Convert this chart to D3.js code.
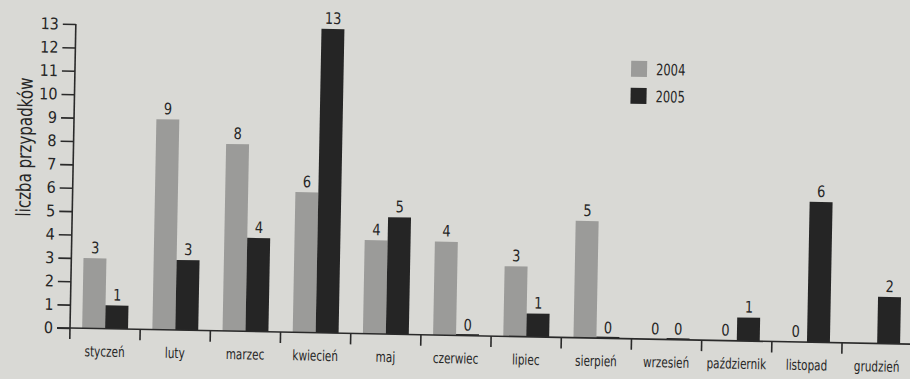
<!DOCTYPE html>
<html lang="pl">
<head>
<meta charset="utf-8">
<script src="https://cdn.jsdelivr.net/npm/d3@7"></script>
<style>
  html, body { margin: 0; padding: 0; background: #d9d9d5; }
  svg { display: block; }
  text { font-family: "Liberation Sans Narrow", "DejaVu Sans Condensed", "Open Sans", sans-serif; font-stretch: condensed; fill: #262626; }
</style>
</head>
<body>
<svg id="chart" width="910" height="379"></svg>
<script>
// Liczba przypadków w poszczególnych miesiącach
const months = ["styczeń", "luty", "marzec", "kwiecień", "maj", "czerwiec",
                "lipiec", "sierpień", "wrzesień", "październik", "listopad", "grudzień"];
const series = ["2004", "2005"];
const values2004 = [3, 9, 8, 6, 4, 4, 3, 5, 0, 0, 0, null];
const values2005 = [1, 3, 4, 13, 5, 0, 1, 0, 0, 1, 6, 2];
const yTicks = [0, 1, 2, 3, 4, 5, 6, 7, 8, 9, 10, 11, 12, 13];
const yTitle = "liczba przypadków";

const colors = { "2004": "#9b9b99", "2005": "#252525" };
const narrow = 0.8; // horizontal squeeze for the condensed label face

const svg = d3.select("#chart");
const plotLeft = 70, plotBottom = 328, plotTop = 24;
const step = 70.2;

const g = svg.append("g").attr("transform", `rotate(1.1, ${plotLeft}, ${plotBottom})`);

const x = d3.scaleBand().domain(months).range([plotLeft, plotLeft + step * months.length]).padding(0);
const x1 = d3.scaleBand().domain(series).range([0, x.bandwidth()]).paddingInner(0).paddingOuter(0.53);
const y = d3.scaleLinear().domain([0, 13]).range([plotBottom, plotTop]);

const rows = months.map((m, i) => ({ month: m, "2004": values2004[i], "2005": values2005[i] }));
const pairs = d => series.filter(s => d[s] !== null).map(s => ({ key: s, value: d[s] }));

// bars
const groups = g.append("g").selectAll("g").data(rows).join("g")
  .attr("transform", d => `translate(${x(d.month)},0)`);

groups.selectAll("rect")
  .data(pairs)
  .join("rect")
  .attr("x", d => x1(d.key))
  .attr("width", x1.bandwidth())
  .attr("y", d => y(d.value) - (d.value === 0 && d.key === "2005" ? 1.5 : 0))
  .attr("height", d => plotBottom - y(d.value) + (d.value === 0 && d.key === "2005" ? 1.5 : 0))
  .attr("fill", d => colors[d.key]);

// value labels
groups.selectAll("text.val")
  .data(pairs)
  .join("text")
  .attr("class", "val")
  .attr("transform", d => `translate(${x1(d.key) + x1.bandwidth() / 2},${y(d.value) - 5}) scale(0.9,1)`)
  .attr("text-anchor", "middle")
  .attr("font-size", 16)
  .text(d => d.value);

// y axis
const yAxis = g.append("g").attr("transform", `translate(${plotLeft},0)`)
  .call(d3.axisLeft(y).tickValues(yTicks).tickSize(13).tickSizeOuter(0).tickFormat(d3.format("d")));
yAxis.select(".domain").attr("stroke", "#2a2a2a").attr("stroke-width", 1.6)
  .attr("d", `M0,${plotTop}V${plotBottom + 11}`);
yAxis.selectAll(".tick line").attr("stroke", "#2a2a2a").attr("stroke-width", 1.6);
yAxis.selectAll(".tick text").attr("font-size", 16).attr("x", -17).attr("fill", "#262626");

// x axis baseline and separators
const xEnd = plotLeft + step * months.length;
g.append("line").attr("x1", plotLeft - 13).attr("x2", xEnd).attr("y1", plotBottom).attr("y2", plotBottom)
  .attr("stroke", "#2a2a2a").attr("stroke-width", 1.6);
g.append("g").selectAll("line").data(months.slice(1)).join("line")
  .attr("x1", d => x(d)).attr("x2", d => x(d))
  .attr("y1", plotBottom).attr("y2", plotBottom + 11)
  .attr("stroke", "#2a2a2a").attr("stroke-width", 1.6);

// month labels
g.append("g").selectAll("text").data(months).join("text")
  .attr("transform", d => `translate(${x(d) + x.bandwidth() / 2},${plotBottom + 28}) scale(${narrow},1)`)
  .attr("text-anchor", "middle")
  .attr("font-size", 14.5)
  .text(d => d);

// y axis title
g.append("text")
  .attr("transform", `translate(28, ${(plotTop + plotBottom) / 2 - 28}) rotate(-90) scale(0.84,1)`)
  .attr("text-anchor", "middle")
  .attr("font-size", 20)
  .text(yTitle);

// legend
const legend = g.append("g").attr("transform", "translate(626, 50)");
const li = legend.selectAll("g").data(series).join("g")
  .attr("transform", (d, i) => `translate(0, ${i * 27})`);
li.append("rect").attr("x", 0).attr("y", 0).attr("width", 16).attr("height", 16)
  .attr("fill", d => colors[d]);
li.append("text").attr("transform", `translate(25,14) scale(${narrow},1)`)
  .attr("font-size", 16).text(d => d);
</script>
</body>
</html>
